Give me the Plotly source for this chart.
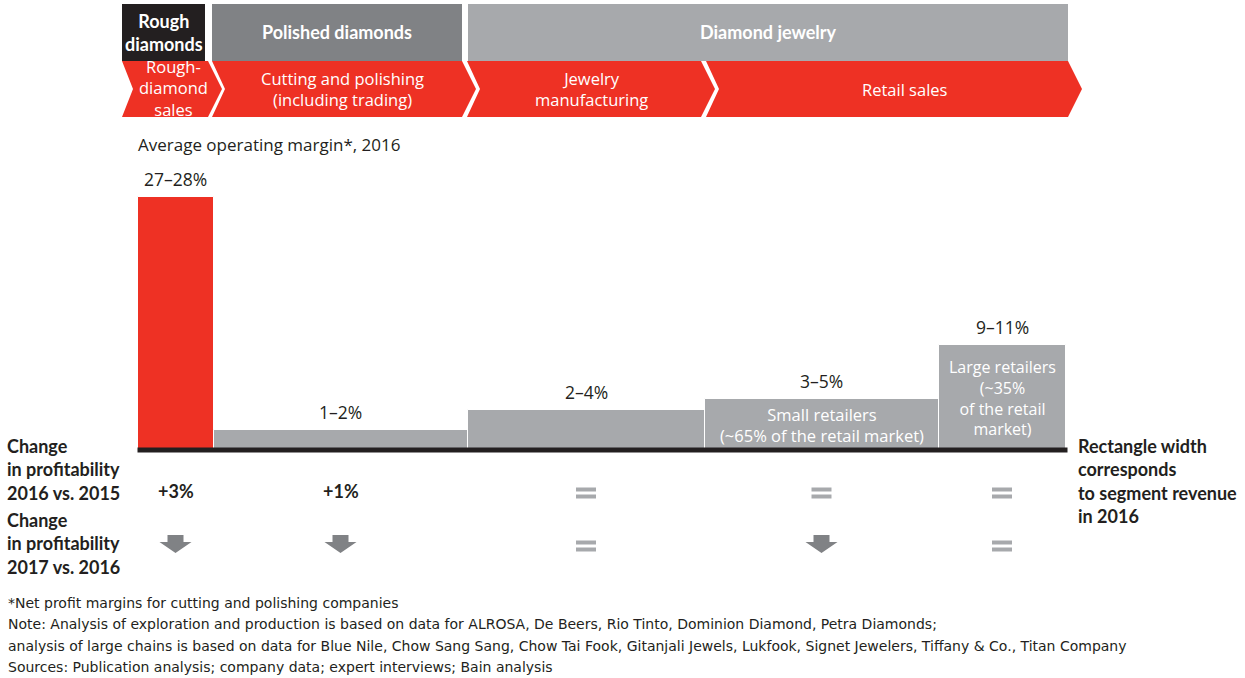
import numpy as np
import plotly.graph_objects as go

W, H = 1245, 678

# ---------------- data ----------------
segments = ["Rough-diamond sales", "Cutting and polishing", "Jewelry manufacturing",
            "Small retailers", "Large retailers"]
margin_labels = ["27–28%", "1–2%", "2–4%", "3–5%", "9–11%"]
bar_height = [27.5, 2.2, 4.3, 5.5, 11.4]          # drawn margin height (schematic, %)
revenue_width = [76, 254, 237, 234, 127]          # relative segment revenue 2016 (rectangle width)
bar_colors = ["#ee3124", "#a7a9ac", "#a7a9ac", "#a7a9ac", "#a7a9ac"]
inside_labels = ["", "", "", "Small retailers<br>(~65% of the retail market)",
                 "Large retailers<br>(~35%<br>of the retail<br>market)"]
change_2016 = ["+3%", "+1%", "=", "=", "="]
change_2017 = ["down", "down", "=", "down", "="]

header_groups = ["Rough<br>diamonds", "Polished diamonds", "Diamond jewelry"]
chevron_labels = ["Rough-<br>diamond<br>sales", "Cutting and polishing<br>(including trading)",
                  "Jewelry<br>manufacturing", "Retail sales"]

footnotes = [
    "*Net profit margins for cutting and polishing companies",
    "Note: Analysis of exploration and production is based on data for ALROSA, De Beers, Rio Tinto, Dominion Diamond, Petra Diamonds;",
    "analysis of large chains is based on data for Blue Nile, Chow Sang Sang, Chow Tai Fook, Gitanjali Jewels, Lukfook, Signet Jewelers, Tiffany & Co., Titan Company",
    "Sources: Publication analysis; company data; expert interviews; Bain analysis",
]

# ---------------- styling / layout constants ----------------
RED = "#ee3124"
DGRAY = "#808285"
LGRAY = "#a7a9ac"
INK = "#231f20"
REG = "Open Sans"
NOTE = "DejaVu Sans"
BOLD = "Lato"

X0 = 137.5          # left edge of first rectangle (px on x axis)
BASE_PX = 450       # baseline pixel row
SCALE = 9.2         # px per margin unit
yr = [-(H - BASE_PX) / SCALE, BASE_PX / SCALE]


def py(y):
    return 1 - y / H


def px(x):
    return x / W


edges = X0 + np.concatenate([[0], np.cumsum(revenue_width)])
centers = (edges[:-1] + edges[1:]) / 2

fig = go.Figure()
fig.add_trace(go.Bar(
    x=centers, y=bar_height, width=revenue_width, base=0,
    marker=dict(color=bar_colors, line=dict(color="white", width=1)),
    hoverinfo="skip", showlegend=False,
))

shapes = []
annotations = []

# baseline
shapes.append(dict(type="line", xref="x", yref="y", x0=edges[0], x1=edges[-1] + 2, y0=0, y1=0,
                   line=dict(color=INK, width=5)))

# header boxes
boxes = [(122, 205, INK), (212, 462, DGRAY), (468, 1068, LGRAY)]
for (a, b, c), t in zip(boxes, header_groups):
    shapes.append(dict(type="rect", xref="paper", yref="paper", x0=px(a), x1=px(b),
                       y0=py(61), y1=py(4), fillcolor=c, line=dict(width=0), layer="below"))
    annotations.append(dict(x=px((a + b) / 2), y=py(32), xref="paper", yref="paper", text=t,
                            showarrow=False, font=dict(family=BOLD, size=18, color="white"),
                            xanchor="center", yanchor="middle"))

# chevrons
chev = [(122, 208, True), (212, 462, False), (467, 701, False), (706, 1068, False)]
ctr = [173, 343, 591, 905]
cy = [88, 89, 89, 89]
for (a, b, flat), t, cx, yy in zip(chev, chevron_labels, ctr, cy):
    notch = 11 if flat else 13
    pts = [(a, 61), (b, 61), (b + 14, 89), (b, 117), (a, 117), (a + notch, 89)]
    path = "M " + " L ".join(f"{px(x)},{py(y)}" for x, y in pts) + " Z"
    shapes.append(dict(type="path", xref="paper", yref="paper", path=path,
                       fillcolor=RED, line=dict(width=0)))
    annotations.append(dict(x=px(cx), y=py(yy), xref="paper", yref="paper", text=t,
                            showarrow=False, font=dict(family=REG, size=16.5, color="white"),
                            xanchor="center", yanchor="middle"))

# subtitle
annotations.append(dict(x=px(136), y=py(145), xref="paper", yref="paper",
                        text="Average operating margin*, 2016", showarrow=False,
                        font=dict(family=REG, size=17, color=INK), xanchor="left", yanchor="middle"))

# bar value labels
for cx, h, lab in zip(centers, bar_height, margin_labels):
    annotations.append(dict(x=cx, y=h, xref="x", yref="y", text=lab, showarrow=False,
                            font=dict(family=REG, size=17.5, color=INK),
                            xanchor="center", yanchor="bottom", yshift=4))

# inside labels
inside_sizes = [16, 16, 16, 16.5, 16]
for cx, h, lab, fs in zip(centers, bar_height, inside_labels, inside_sizes):
    if lab:
        annotations.append(dict(x=cx, y=h / 2, xref="x", yref="y", text=lab, showarrow=False,
                                font=dict(family=REG, size=fs, color="white"),
                                xanchor="center", yanchor="middle", yshift=0))

# left row labels
for t, yc in [("Change<br>in profitability<br>2016 vs. 2015", 469),
              ("Change<br>in profitability<br>2017 vs. 2016", 543)]:
    annotations.append(dict(x=px(5), y=py(yc), xref="paper", yref="paper", text=t, showarrow=False,
                            align="left", font=dict(family=BOLD, size=18, color=INK),
                            xanchor="left", yanchor="middle"))

annotations.append(dict(x=px(1076), y=py(481), xref="paper", yref="paper",
                        text="Rectangle width<br>corresponds<br>to segment revenue<br>in 2016",
                        showarrow=False, align="left", font=dict(family=BOLD, size=18, color=INK),
                        xanchor="left", yanchor="middle"))


def equals(cx, yc):
    for dy in (-4.5, 2.5):
        shapes.append(dict(type="rect", xref="x", yref="paper", x0=cx - 10, x1=cx + 10,
                           y0=py(yc + dy + 4), y1=py(yc + dy), fillcolor=LGRAY, line=dict(width=0)))


def down_arrow(cx, yc):
    pts = [(cx - 8, yc - 9), (cx + 8, yc - 9), (cx + 8, yc - 2), (cx + 16, yc - 2),
           (cx, yc + 9), (cx - 16, yc - 2), (cx - 8, yc - 2)]
    path = "M " + " L ".join(f"{x},{py(y)}" for x, y in pts) + " Z"
    shapes.append(dict(type="path", xref="x", yref="paper", path=path,
                       fillcolor=DGRAY, line=dict(width=0)))


for cx, v in zip(centers, change_2016):
    if v == "=":
        equals(cx, 492)
    else:
        annotations.append(dict(x=cx, y=py(491), xref="x", yref="paper", text=f"<b>{v}</b>",
                                showarrow=False, font=dict(family=BOLD, size=18, color=INK),
                                xanchor="center", yanchor="middle"))

for cx, v in zip(centers, change_2017):
    if v == "=":
        equals(cx, 545)
    else:
        down_arrow(cx, 544)

# footnotes
for i, t in enumerate(footnotes):
    annotations.append(dict(x=px(6), y=py(603 + i * 21.3), xref="paper", yref="paper", text=t,
                            showarrow=False, font=dict(family=NOTE, size=14, color=INK),
                            xanchor="left", yanchor="middle"))

# make bold labels bold
for a in annotations:
    if a["font"]["family"] == BOLD and not a["text"].startswith("<b>"):
        a["text"] = "<b>" + a["text"].replace("<br>", "</b><br><b>") + "</b>"

fig.update_layout(
    width=W, height=H, autosize=False,
    margin=dict(l=0, r=0, t=0, b=0),
    paper_bgcolor="white", plot_bgcolor="white",
    xaxis=dict(range=[0, W], domain=[0, 1], visible=False, fixedrange=True),
    yaxis=dict(range=yr, domain=[0, 1], visible=False, fixedrange=True),
    shapes=shapes, annotations=annotations, bargap=0, showlegend=False,
)

fig.write_html("out.html", config={"displayModeBar": False},
               post_script="document.body.style.margin='0';document.body.style.overflow='hidden';")
